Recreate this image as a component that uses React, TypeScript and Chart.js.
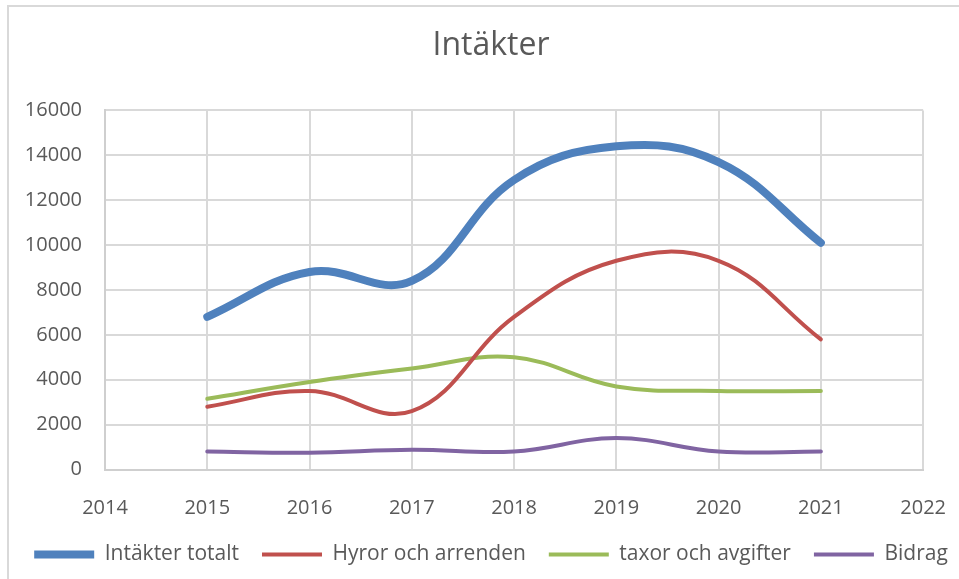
import React, { useEffect, useRef } from "react";
import { Chart, registerables } from "chart.js";

Chart.register(...registerables);

const years = [2015, 2016, 2017, 2018, 2019, 2020, 2021];
const intakterTotalt = [6800, 8800, 8400, 12900, 14400, 13700, 10100];
const hyrorOchArrenden = [2800, 3500, 2600, 6800, 9300, 9300, 5800];
const taxorOchAvgifter = [3150, 3900, 4500, 5000, 3700, 3500, 3500];
const bidrag = [800, 750, 880, 800, 1400, 800, 800];

const xMin = 2014;
const xMax = 2022;
const yMax = 16000;
const yStep = 2000;

const FONT = "'Open Sans', sans-serif";
const TEXT = "#595959";
const GRID = "#d9d9d9";

function pts(vals: number[]) {
  return years.map((y, i) => ({ x: y, y: vals[i] }));
}

export default function App() {
  const ref = useRef<HTMLCanvasElement | null>(null);
  useEffect(() => {
    if (!ref.current) return;
    const mk = (label: string, vals: number[], color: string, w: number) => ({
      label,
      data: pts(vals),
      borderColor: color,
      backgroundColor: color,
      borderWidth: w,
      borderCapStyle: "round" as const,
      borderJoinStyle: "round" as const,
      pointRadius: 0,
      pointHoverRadius: 0,
      tension: 0.4,
      fill: false,
    });
    const chart = new Chart(ref.current, {
      type: "line",
      data: {
        datasets: [
          mk("Intäkter totalt", intakterTotalt, "#4f81bd", 8),
          mk("Hyror och arrenden", hyrorOchArrenden, "#c0504d", 4),
          mk("taxor och avgifter", taxorOchAvgifter, "#9bbb59", 4),
          mk("Bidrag", bidrag, "#8064a2", 4),
        ],
      },
      options: {
        animation: false,
        responsive: false,
        maintainAspectRatio: false,
        layout: { padding: { left: 0, right: 0, top: 0, bottom: 0 } },
        plugins: {
          tooltip: { enabled: false },
          title: {
            display: true,
            text: "Intäkter",
            color: TEXT,
            font: { family: FONT, size: 32, weight: "normal" },
            padding: { top: 20, bottom: 45 },
          },
          legend: {
            position: "bottom",
            labels: {
              usePointStyle: true,
              pointStyle: "line",
              pointStyleWidth: 60,
              padding: 23,
              color: TEXT,
              font: { family: FONT, size: 21 },
            },
          },
        },
        scales: {
          x: {
            type: "linear",
            min: xMin,
            max: xMax,
            ticks: {
              stepSize: 1,
              color: TEXT,
              padding: 27,
              font: { family: FONT, size: 20 },
              callback: (v: any) => String(v),
            },
            grid: { color: GRID, lineWidth: 2, drawTicks: false },
            border: { color: "#cfcfcf", width: 2 },
            afterFit: (s: any) => {
              s.height = 51.5;
            },
          },
          y: {
            min: 0,
            max: yMax,
            ticks: {
              stepSize: yStep,
              color: TEXT,
              padding: 23,
              font: { family: FONT, size: 20 },
              callback: (v: any) => String(v),
            },
            grid: { color: GRID, lineWidth: 2, drawTicks: false },
            border: { color: "#cfcfcf", width: 2 },
            afterFit: (s: any) => {
              s.width = 96;
            },
          },
          yRight: {
            position: "right",
            min: 0,
            max: yMax,
            ticks: { display: false },
            grid: { display: false, drawTicks: false },
            border: { display: false },
            afterFit: (s: any) => {
              s.width = 43;
            },
          },
        },
      },
    });
    return () => chart.destroy();
  }, []);
  return (
    <div
      style={{
        position: "fixed",
        left: 0,
        top: 0,
        width: 959,
        height: 579,
        overflow: "hidden",
        background: "#fff",
      }}
    >
      <div
        style={{
          position: "absolute",
          left: 7,
          top: 5,
          width: 964,
          height: 600,
          border: "2px solid #d9d9d9",
        }}
      >
        <canvas ref={ref} width={964} height={568} style={{ display: "block" }} />
      </div>
    </div>
  );
}
